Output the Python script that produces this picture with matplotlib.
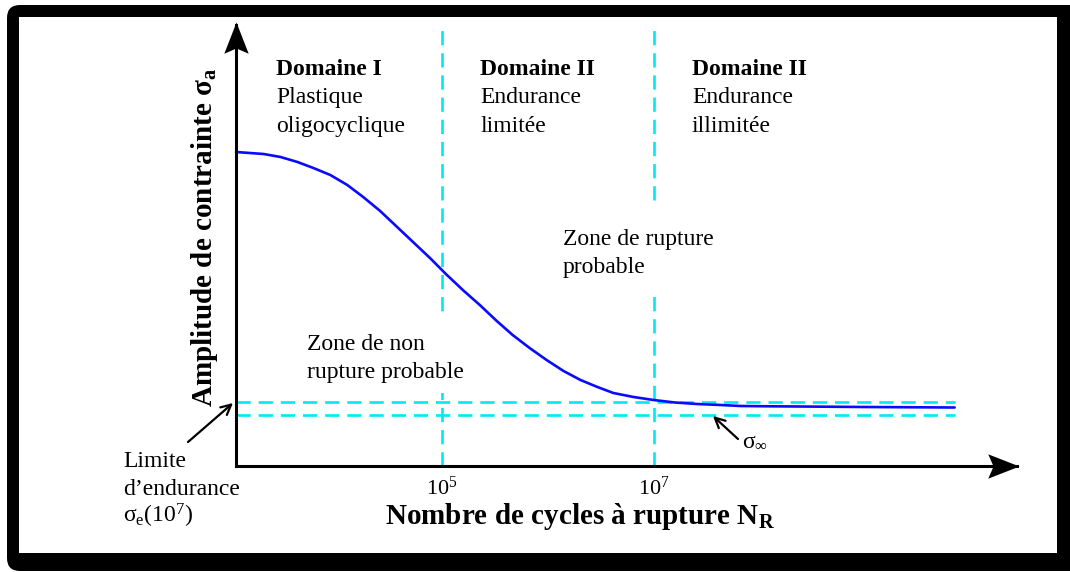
import numpy as np
import matplotlib
matplotlib.use('Agg')
from matplotlib import pyplot as plt
from matplotlib import transforms
from matplotlib.patches import FancyBboxPatch, Rectangle
from matplotlib.path import Path

plt.rcParams['font.family'] = ['Liberation Serif', 'DejaVu Serif']
plt.rcParams['mathtext.fontset'] = 'custom'
plt.rcParams['mathtext.rm'] = 'Liberation Serif'
plt.rcParams['mathtext.it'] = 'Liberation Serif:italic'
plt.rcParams['mathtext.bf'] = 'Liberation Serif:bold'

# Wohler curve, x = log10(N), y = stress amplitude (arbitrary units)
log_n = [3.06, 3.19, 3.32, 3.48, 3.64, 3.79, 3.95, 4.11, 4.26, 4.42,
         4.58, 4.73, 4.89, 5.04, 5.20, 5.36, 5.52, 5.67, 5.83, 5.99,
         6.15, 6.31, 6.47, 6.62, 6.81, 7.00, 7.20, 7.41, 7.63, 7.82,
         8.10, 8.38, 8.98, 9.84]
sigma = [314, 313, 312, 309, 304, 298, 291, 281, 269, 255,
         239, 224, 208, 192, 176, 161, 145, 131, 118, 106,
         95, 86, 79, 73, 69, 66, 63.5, 62, 61, 60,
         59.7, 59.5, 59, 58.5]

sigma_e = 64       # limite d'endurance at 1e7 cycles
sigma_inf = 51     # asymptote
domain_limits = [5, 7]
tick_labels = [r'$\mathrm{10^5}$', r'$\mathrm{10^7}$']

x_start, x_end, x_tip = 3.06, 9.84, 10.43
y_top_dash, y_tip = 436, 441

domains = [('Domaine I', 'Plastique', 'oligocyclique'),
           ('Domaine II', 'Endurance', 'limitée'),
           ('Domaine II', 'Endurance', 'illimitée')]

W, H = 1070, 572
fig = plt.figure(figsize=(W / 100, H / 100), dpi=100)
fig.patch.set_facecolor('white')
# pixel coordinates, origin at top-left
pix = transforms.Affine2D().scale(1 / W, -1 / H).translate(0, 1) + fig.transFigure

# frame with shadow
frame = FancyBboxPatch((7, 5), 1100, 566, boxstyle='round,pad=0,rounding_size=13',
                       facecolor='black', edgecolor='none', transform=pix, zorder=-10)
inner = Rectangle((19, 17), 1038, 536, facecolor='white', edgecolor='none',
                  transform=pix, zorder=-9)
fig.add_artist(frame)
fig.add_artist(inner)

ax = fig.add_axes([0, 0, 1, 1])
ax.set_xlim(3.06 - 236 / 106, 3.06 + 834 / 106)
ax.set_ylim(-106, 466)
ax.axis('off')
ax.patch.set_visible(False)

cyan = '#00eaf2'
dash = dict(color=cyan, lw=1.9, dashes=(5.4, 3.0), zorder=2)
for d in domain_limits:
    ax.plot([d, d], [0, y_top_dash], **dash)
ax.plot([x_start, x_end], [sigma_e, sigma_e], **dash)
ax.plot([x_start, x_end], [sigma_inf, sigma_inf], **dash)

# white boxes behind zone labels
ax.add_patch(Rectangle((300, 318), 178, 75, facecolor='white', edgecolor='none',
                       transform=pix, zorder=3))
ax.add_patch(Rectangle((556, 208), 169, 84, facecolor='white', edgecolor='none',
                       transform=pix, zorder=3))

ax.plot(log_n, sigma, color='#0a0aff', lw=1.9, zorder=4,
        solid_joinstyle='round', solid_capstyle='round')

# axes with arrow heads
ax.plot([x_start, x_tip], [0, 0], color='black', lw=2.2, zorder=5)
ax.plot([x_start, x_start], [0, y_tip], color='black', lw=2.2, zorder=5)
head_r = Path([(0, 0), (-1, 0.39), (-0.83, 0), (-1, -0.39), (0, 0)],
              [Path.MOVETO, Path.LINETO, Path.LINETO, Path.LINETO, Path.CLOSEPOLY])
head_u = Path([(0, 0), (0.39, -1), (0, -0.83), (-0.39, -1), (0, 0)],
              [Path.MOVETO, Path.LINETO, Path.LINETO, Path.LINETO, Path.CLOSEPOLY])
ax.plot([x_tip + 0.02], [0], marker=head_r, ms=45, color='black', mec='none', zorder=6)
ax.plot([x_start], [y_tip + 3], marker=head_u, ms=45, color='black', mec='none', zorder=6)

for d, lab in zip(domain_limits, tick_labels):
    ax.text(d, -29, lab, ha='center', va='baseline', fontsize=16, zorder=6)

txt = dict(fontsize=17, va='baseline', ha='left', transform=pix, zorder=6)
for x0, (title, l1, l2) in zip([276, 480, 692], domains):
    ax.text(x0, 75, title, fontweight='bold', **txt)
    ax.text(x0, 103, l1, **txt)
    ax.text(x0, 132, l2, **txt)

ax.text(563, 245, 'Zone de rupture', **txt)
ax.text(563, 273, 'probable', **txt)
ax.text(307, 350, 'Zone de non', **txt)
ax.text(307, 378, 'rupture probable', **txt)

ax.text(123, 467, 'Limite', **txt)
ax.text(123, 495, 'd\u2019endurance', **txt)
ax.text(123, 523, r'$\mathrm{σ_e(10^7)}$', **txt)
ax.text(742, 447, r'$\mathrm{σ_∞}$', **txt)

arrow = dict(arrowstyle='->', lw=1.6, color='black', shrinkA=0, shrinkB=0,
             mutation_scale=18)
ax.annotate('', xy=(233, 403), xytext=(188, 442), xycoords=pix,
            textcoords=pix, arrowprops=arrow, zorder=6)
ax.annotate('', xy=(713, 416), xytext=(738, 439), xycoords=pix,
            textcoords=pix, arrowprops=arrow, zorder=6)

ax.text(385, 524, r'Nombre de cycles à rupture $\mathbf{N_R}$', fontsize=21,
        fontweight='bold', ha='left', va='baseline', transform=pix, zorder=6)
ax.text(205, 237, r'Amplitude de contrainte $\mathbf{σ_a}$', fontsize=21,
        fontweight='bold', rotation=90, ha='center', va='center',
        transform=pix, zorder=6)

fig.savefig('out.png', dpi=100, facecolor='white')
